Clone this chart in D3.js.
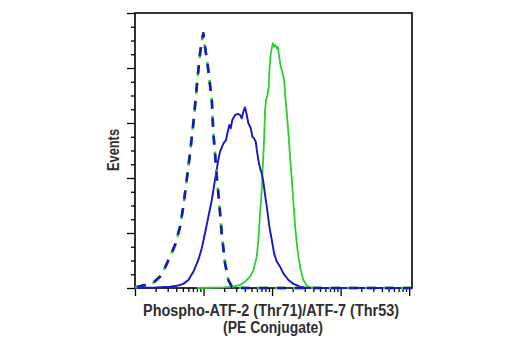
<!DOCTYPE html>
<html>
<head>
<meta charset="utf-8">
<script src="https://cdn.jsdelivr.net/npm/d3@7"></script>
<style>
  html, body { margin: 0; padding: 0; background: #fff; }
  svg { display: block; }
  .lbl { font-family: "Liberation Sans Narrow", "Arial Narrow", "Liberation Sans", Arial, sans-serif; font-weight: bold; fill: #2e2e2e; }
</style>
</head>
<body>
<svg id="chart" width="520" height="350"></svg>
<script>
// Flow cytometry histogram: PE fluorescence (log scale) vs. event count (% of max)

// Isotype control (dashed)
const isotypeFluor = [1, 1.25, 1.55, 1.85, 2.45, 3.24, 3.84, 4.54, 5.07, 5.68, 6.35, 7.27, 8.12, 8.89, 9.41, 9.93,
  10.5, 11.4, 12.2, 13.2, 13.9, 14.7, 15.6, 16.8, 18.4, 20.6, 23.0, 25.8, 30, 40, 11000];
const isotypeEvents = [0.2, 0.8, 1.2, 1.9, 4.7, 11.4, 15.6, 22.3, 29.6, 39.3, 49.0, 62.3, 75.6, 85.3, 89.6, 92.6,
  87.7, 81.7, 75.6, 68.4, 56.3, 49.0, 40.5, 32.0, 19.9, 9.0, 2.9, 0.5, 0.1, 0, 0];

// Blue solid histogram
const blueFluor = [1, 2, 3.24, 4.06, 5.07, 6.0, 7.10, 8.40, 9.41, 10.5, 11.75, 13.2, 14.7, 16.4, 17.4, 19.5, 21.3,
  22.3, 23.8, 24.9, 26.3, 28.8, 32.2, 34.1, 36.1, 38.1, 40.3, 42.7, 45.1, 48.9, 51.6, 54.6, 57.8, 59.8, 63.1,
  66.8, 70.7, 74.6, 79.0, 83.7, 91.3, 99.0, 107, 117, 131, 146, 173, 205, 256, 321, 11000];
const blueEvents = [0, 0.2, 0.5, 0.8, 1.5, 2.9, 5.9, 10.2, 14.4, 19.9, 25.9, 32.0, 39.3, 46.5, 49.6, 52.6, 53.8,
  56.3, 59.3, 58.1, 61.1, 62.9, 63.3, 62.9, 61.7, 64.1, 65.7, 62.9, 59.9, 58.1, 55.0, 54.4, 53.2, 50.2, 46.5,
  43.5, 41.7, 38.7, 33.8, 29.6, 22.3, 17.5, 12.6, 9.6, 7.7, 5.3, 2.9, 1.5, 0.5, 0, 0];

// Green solid histogram
const greenFluor = [8, 20, 27.2, 34.1, 40.3, 47.7, 53.3, 59.8, 63.1, 66.8, 70.7, 73.1, 76.4, 79.0, 81.7, 85.4,
  89.5, 91.3, 95.7, 99.0, 102.4, 107, 110.6, 117, 121, 128, 134, 141, 150, 156, 164, 173, 183, 194, 205, 217,
  229, 242, 262, 286, 321, 380, 500, 11000];
const greenEvents = [0, 0.2, 0.5, 1.1, 2.3, 4.1, 6.5, 11.4, 17.5, 27.2, 35.6, 44.1, 53.8, 64.7, 68.4, 70.2,
  73.2, 79.3, 85.3, 87.2, 89.0, 87.7, 88.4, 87.2, 87.7, 83.5, 80.5, 78.7, 75.6, 69.6, 63.5, 56.3, 47.7, 39.3,
  30.8, 22.3, 16.3, 11.4, 6.5, 2.9, 0.8, 0.1, 0, 0];

// Axis tick values (no tick labels are drawn)
const xMajorTicks = [1, 10, 100, 1000, 10000];
const xMinorTicks = [1, 10, 100, 1000].flatMap(d => [2, 3, 4, 5, 6, 7, 8, 9].map(m => m * d));
const yMajorTicks = [0, 20, 40, 60, 80, 100];
const yMinorTicks = d3.range(0, 101, 5).filter(v => v % 20 !== 0);

const xTitle = ["Phospho-ATF-2 (Thr71)/ATF-7 (Thr53)", "(PE Conjugate)"];
const yTitle = "Events";

const BLUE = "#1717c4";
const GREEN = "#2ccf2c";

const plot = { left: 135, top: 13, right: 412, bottom: 288 };
const svg = d3.select("#chart");

const x = d3.scaleLog().domain([1, 11000]).range([plot.left, plot.right]);
const y = d3.scaleLinear().domain([0, 100]).range([plot.bottom, plot.top]);

// frame
svg.append("rect")
  .attr("x", plot.left).attr("y", plot.top)
  .attr("width", plot.right - plot.left).attr("height", plot.bottom - plot.top)
  .attr("fill", "none").attr("stroke", "#000").attr("stroke-width", 1.6);

function styleAxis(g) {
  g.select(".domain").remove();
  g.selectAll(".tick line").attr("stroke", "#000").attr("stroke-width", 1.3);
  g.selectAll("text").remove();
}

// y axis ticks
svg.append("g").attr("transform", `translate(${plot.left},0)`)
  .call(d3.axisLeft(y).tickValues(yMajorTicks).tickSize(8).tickFormat(""))
  .call(styleAxis);
svg.append("g").attr("transform", `translate(${plot.left},0)`)
  .call(d3.axisLeft(y).tickValues(yMinorTicks).tickSize(4).tickFormat(""))
  .call(styleAxis);

// x axis ticks
svg.append("g").attr("transform", `translate(0,${plot.bottom})`)
  .call(d3.axisBottom(x).tickValues(xMajorTicks).tickSize(8).tickFormat(""))
  .call(styleAxis);
svg.append("g").attr("transform", `translate(0,${plot.bottom})`)
  .call(d3.axisBottom(x).tickValues(xMinorTicks).tickSize(4).tickFormat(""))
  .call(styleAxis);

const line = d3.line().x(d => x(d[0])).y(d => y(d[1]));
const pairs = (xs, ys) => xs.map((v, i) => [v, ys[i]]);

const curves = svg.append("g").attr("fill", "none")
  .attr("stroke-linejoin", "round").attr("stroke-linecap", "butt");

curves.append("path")
  .attr("d", line(pairs(greenFluor, greenEvents)))
  .attr("stroke", GREEN).attr("stroke-width", 1.8);

curves.append("path")
  .attr("d", line(pairs(blueFluor, blueEvents)))
  .attr("stroke", BLUE).attr("stroke-width", 1.9);

// isotype control drawn as interleaved green/blue dashes
const iso = line(pairs(isotypeFluor, isotypeEvents));
curves.append("path")
  .attr("d", iso)
  .attr("stroke", GREEN).attr("stroke-width", 2.6)
  .attr("stroke-dasharray", "11,7");
curves.append("path")
  .attr("d", iso)
  .attr("stroke", BLUE).attr("stroke-width", 2.6)
  .attr("stroke-dasharray", "9,9").attr("stroke-dashoffset", -2);

// axis titles (condensed bold lettering)
svg.append("text").attr("class", "lbl")
  .attr("text-anchor", "middle").style("font-size", "16px")
  .attr("x", 271).attr("y", 315.5)
  .attr("textLength", 256).attr("lengthAdjust", "spacingAndGlyphs")
  .text(xTitle[0]);
svg.append("text").attr("class", "lbl")
  .attr("text-anchor", "middle").style("font-size", "16px")
  .attr("x", 273).attr("y", 332.5)
  .attr("textLength", 100).attr("lengthAdjust", "spacingAndGlyphs")
  .text(xTitle[1]);

svg.append("text").attr("class", "lbl")
  .attr("text-anchor", "middle").style("font-size", "16px")
  .attr("transform", "translate(118.5,150) rotate(-90)")
  .attr("textLength", 42).attr("lengthAdjust", "spacingAndGlyphs")
  .text(yTitle);
</script>
</body>
</html>
